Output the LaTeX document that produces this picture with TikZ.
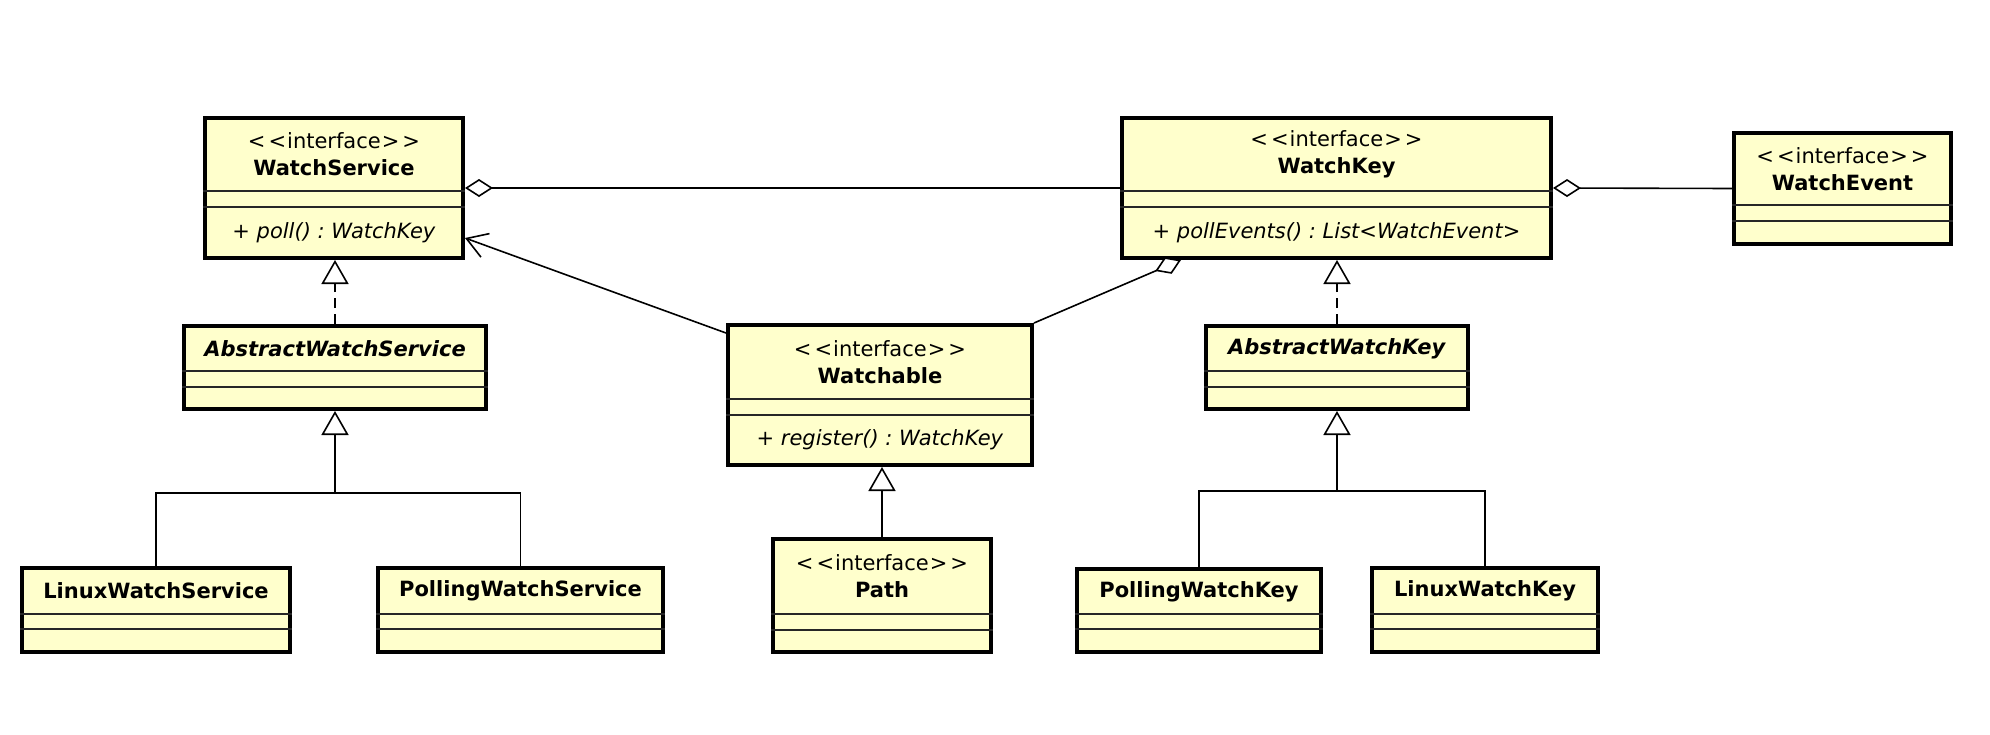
\documentclass[tikz,border=0pt]{standalone}
\usepackage{fontspec}
\setmainfont{DejaVu Sans}
\usetikzlibrary{shapes.multipart,arrows.meta}
\definecolor{classfill}{RGB}{255,255,204}
\frenchspacing
% one compartment of a class box: height, content (width from cw)
\newcommand{\cpart}[2]{\begin{minipage}[c][#1pt][c]{\cw pt}\centering #2\end{minipage}}
\newcommand{\stereo}[1]{<\kern3pt<\kern1pt#1\kern1pt>\kern3pt>}
\tikzset{
  cw/.code={\def\cw{#1}},
  classbox/.style={rectangle split, rectangle split parts=3, rectangle split draw splits=false,
    draw, line width=4pt, fill=classfill, inner sep=0pt, anchor=north west,
    font=\fontsize{21}{27}\selectfont},
  compsep/.style={line width=1.5pt, black!85},
  assoc/.style={line width=1.6pt},
  tree/.style={line width=1.3pt},
  aggr/.style={assoc, {Diamond[fill=white, length=28pt, width=18pt]}-},
  navig/.style={assoc, -{Straight Barb[length=20pt, width=25pt]}},
  real/.style={assoc, dash pattern=on 10pt off 6pt, -{Triangle[fill=white, length=24pt, width=27pt]}},
  gen/.style={assoc, -{Triangle[fill=white, length=24pt, width=27pt]}}
}
\begin{document}
\begin{tikzpicture}[x=1pt, y=-1pt, line join=miter]
  \useasboundingbox (0,0) rectangle (1990,734);
  % interfaces
  \node[classbox, cw=258] (ws) at (203,116)
    {\cpart{69}{\stereo{interface}\\\textbf{WatchService}}\nodepart{two}\cpart{12}{}\nodepart{three}\cpart{47}{\textit{+ poll() : WatchKey}}};
  \node[classbox, cw=429] (wk) at (1120,116)
    {\cpart{69}{\stereo{interface}\\\textbf{WatchKey}}\nodepart{two}\cpart{12}{}\nodepart{three}\cpart{47}{\textit{+ pollEvents() : List<WatchEvent>}}};
  \node[classbox, cw=217] (we) at (1732,131)
    {\cpart{68}{\stereo{interface}\\\textbf{WatchEvent}}\nodepart{two}\cpart{12}{}\nodepart{three}\cpart{19}{}};
  \node[classbox, cw=304] (wa) at (726,323)
    {\cpart{70}{\stereo{interface}\\\textbf{Watchable}}\nodepart{two}\cpart{12}{}\nodepart{three}\cpart{46}{\textit{+ register() : WatchKey}}};
  \node[classbox, cw=218] (pa) at (771,537)
    {\cpart{71}{\stereo{interface}\\\textbf{Path}}\nodepart{two}\cpart{12}{}\nodepart{three}\cpart{18}{}};
  % abstract classes
  \node[classbox, cw=302] (aws) at (182,324)
    {\cpart{41}{\textbf{\textit{AbstractWatchService}}}\nodepart{two}\cpart{12}{}\nodepart{three}\cpart{18}{}};
  \node[classbox, cw=262] (awk) at (1204,324)
    {\cpart{41}{\textbf{\textit{AbstractWatchKey}}}\nodepart{two}\cpart{12}{}\nodepart{three}\cpart{18}{}};
  % classes
  \node[classbox, cw=268] (lws) at (20,566)
    {\cpart{42}{\textbf{LinuxWatchService}}\nodepart{two}\cpart{11}{}\nodepart{three}\cpart{19}{}};
  \node[classbox, cw=285] (pws) at (376,566)
    {\cpart{42}{\textbf{PollingWatchService}}\nodepart{two}\cpart{11}{}\nodepart{three}\cpart{19}{}};
  \node[classbox, cw=244] (pwk) at (1075,567)
    {\cpart{41}{\textbf{PollingWatchKey}}\nodepart{two}\cpart{11}{}\nodepart{three}\cpart{19}{}};
  \node[classbox, cw=226] (lwk) at (1370,566)
    {\cpart{42}{\textbf{LinuxWatchKey}}\nodepart{two}\cpart{11}{}\nodepart{three}\cpart{19}{}};
  % compartment lines
  \foreach \c in {ws,wk,we,wa,pa,aws,awk,lws,pws,pwk,lwk}
    \draw[compsep] (\c.text split west) -- (\c.text split east)
      (\c.two split west) -- (\c.two split east);
  % associations
  \draw[aggr] (ws.east) -- (wk.west);
  \draw[aggr] (wk.east) -- (we.west);
  \draw[aggr] ([xshift=61pt]wk.south west) -- (wa.north east);
  \draw[navig] ([yshift=-10pt]wa.north west) -- ([yshift=-50pt]ws.east);
  % realizations
  \draw[real] (aws.north) -- (aws.north |- ws.south);
  \draw[real] (awk.north) -- (awk.north |- wk.south);
  % generalizations
  \coordinate (awsjoin) at ([yshift=-82pt]aws.south);
  \coordinate (awkjoin) at ([yshift=-80pt]awk.south);
  \draw[gen] (awsjoin) -- (aws.south);
  \draw[tree] (lws.north) |- (awsjoin) -| (pws.north);
  \draw[gen] (awkjoin) -- (awk.south);
  \draw[tree] (pwk.north) |- (awkjoin) -| (lwk.north);
  \draw[gen] (pa.north) -- (pa.north |- wa.south);
\end{tikzpicture}
\end{document}
